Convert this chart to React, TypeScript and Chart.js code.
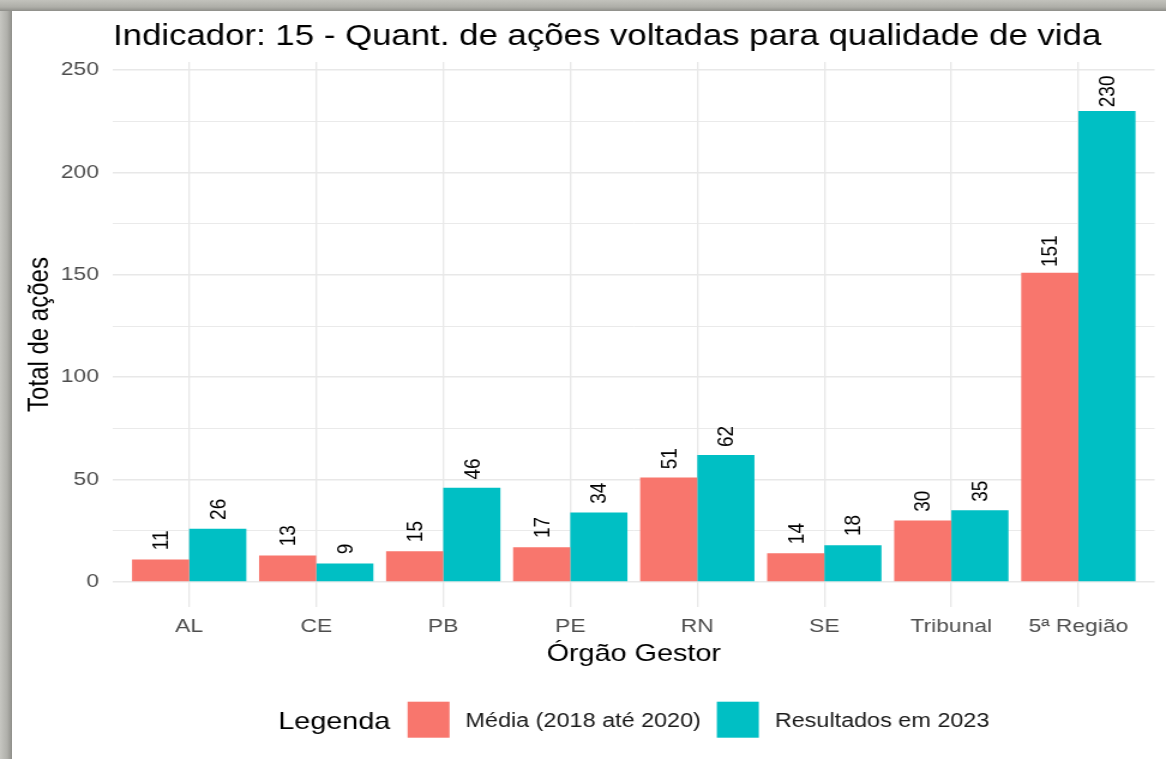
import React, { useEffect, useRef } from "react";
import { Chart, registerables } from "chart.js";

Chart.register(...registerables);

// ---- data ----
const categories = ["AL", "CE", "PB", "PE", "RN", "SE", "Tribunal", "5ª Região"];
const mediaValues = [11, 13, 15, 17, 51, 14, 30, 151];
const resultados2023 = [26, 9, 46, 34, 62, 18, 35, 230];
const seriesLabels = ["Média (2018 até 2020)", "Resultados em 2023"];
const seriesColors = ["#F8766D", "#00BFC4"];
const yTickValues = [0, 25, 50, 75, 100, 125, 150, 175, 200, 225, 250];
const titleText = "Indicador: 15 - Quant. de ações voltadas para qualidade de vida";
const yTitle = "Total de ações";
const xTitle = "Órgão Gestor";
const legendTitle = "Legenda";

// ---- layout (internal canvas units; canvas is stretched 1.2x horizontally like the reference) ----
const CW = 962;
const CH = 748;
const FONT = '"Liberation Sans", Arial, Helvetica, sans-serif';
const PANEL_LEFT = 84.2;
const PANEL_RIGHT = 952.5;
const PANEL_TOP = 51;
const PANEL_BOTTOM = 596;

const decorPlugin = {
  id: "decor",
  afterDatasetsDraw(chart: any) {
    const ctx = chart.ctx as CanvasRenderingContext2D;
    // value labels
    ctx.save();
    ctx.fillStyle = "#000000";
    ctx.font = `19px ${FONT}`;
    chart.data.datasets.forEach((ds: any, di: number) => {
      const meta = chart.getDatasetMeta(di);
      meta.data.forEach((el: any, i: number) => {
        const v = ds.data[i].y;
        const gap = 9.5 - 0.025 * v;
        ctx.save();
        ctx.translate(el.x, el.y - gap);
        ctx.rotate(-Math.PI / 2);
        ctx.textAlign = "left";
        ctx.textBaseline = "middle";
        ctx.fillText(String(v), 0, 1);
        ctx.restore();
      });
    });
    ctx.restore();
  },
  afterDraw(chart: any) {
    const ctx = chart.ctx as CanvasRenderingContext2D;
    const area = chart.chartArea;
    const cx = (area.left + area.right) / 2;
    const cy = (area.top + area.bottom) / 2;
    ctx.save();
    // title
    ctx.fillStyle = "#000000";
    ctx.font = `29px ${FONT}`;
    ctx.textAlign = "left";
    ctx.textBaseline = "alphabetic";
    ctx.fillText(titleText, area.left, 34);
    // x title
    ctx.font = `24px ${FONT}`;
    ctx.textAlign = "center";
    ctx.fillText(xTitle, cx, 650);
    // y title
    ctx.save();
    ctx.translate(30, cy);
    ctx.rotate(-Math.PI / 2);
    ctx.textAlign = "center";
    ctx.textBaseline = "alphabetic";
    ctx.fillText(yTitle, 0, 0);
    ctx.restore();
    // legend
    const keyW = 35;
    const keyH = 36;
    const gTitleKey = 14.4;
    const gKeyLabel = 13.3;
    const gLabelKey = 13.3;
    ctx.font = `24px ${FONT}`;
    const wTitle = ctx.measureText(legendTitle).width;
    ctx.font = `19.5px ${FONT}`;
    const wLabels = seriesLabels.map((l) => ctx.measureText(l).width);
    let total = wTitle + gTitleKey;
    wLabels.forEach((w, i) => {
      total += keyW + gKeyLabel + w + (i < wLabels.length - 1 ? gLabelKey : 0);
    });
    let x = cx - total / 2;
    const legCy = 708.7;
    ctx.textAlign = "left";
    ctx.fillStyle = "#000000";
    ctx.font = `24px ${FONT}`;
    ctx.fillText(legendTitle, x, 718.3);
    x += wTitle + gTitleKey;
    seriesLabels.forEach((l, i) => {
      ctx.fillStyle = seriesColors[i];
      ctx.fillRect(x, legCy - keyH / 2, keyW, keyH);
      x += keyW + gKeyLabel;
      ctx.fillStyle = "#1A1A1A";
      ctx.font = `19.5px ${FONT}`;
      ctx.fillText(l, x, 715.7);
      x += wLabels[i] + gLabelKey;
    });
    ctx.restore();
  },
};

export default function App() {
  const canvasRef = useRef<HTMLCanvasElement | null>(null);

  useEffect(() => {
    document.body.style.margin = "0";
    const canvas = canvasRef.current;
    if (!canvas) return;
    const chart = new Chart(canvas, {
      type: "bar",
      data: {
        datasets: [mediaValues, resultados2023].map((vals, di) => ({
          label: seriesLabels[di],
          data: vals.map((v, i) => ({ x: i + 1, y: v })),
          backgroundColor: seriesColors[di],
          borderWidth: 0,
          categoryPercentage: 0.9,
          barPercentage: 1,
        })),
      },
      options: {
        animation: false,
        responsive: false,
        devicePixelRatio: 1,
        layout: {
          padding: { top: PANEL_TOP, right: CW - PANEL_RIGHT, bottom: 0, left: 0 },
        },
        plugins: {
          legend: { display: false },
          title: { display: false },
          tooltip: { enabled: false },
        },
        scales: {
          x: {
            type: "linear",
            min: 0.4,
            max: 8.6,
            offset: false,
            border: { display: false },
            grid: { color: "#E8E8E8", lineWidth: 1.35, drawTicks: false, offset: false },
            ticks: {
              autoSkip: false,
              maxRotation: 0,
              minRotation: 0,
              padding: 8,
              color: "#4D4D4D",
              font: { size: 19, family: FONT },
              callback: (value: any) => categories[Math.round(Number(value)) - 1] ?? "",
            },
            afterBuildTicks: (scale: any) => {
              scale.ticks = categories.map((_, i) => ({ value: i + 1 }));
            },
            afterFit: (scale: any) => {
              scale.height = CH - PANEL_BOTTOM;
            },
          } as any,
          y: {
            min: -12.2,
            max: 253.9,
            border: { display: false },
            grid: {
              color: "#E8E8E8",
              lineWidth: (c: any) => (c.tick && c.tick.value % 50 === 0 ? 1.5 : 0.9),
              drawTicks: false,
            },
            ticks: {
              padding: 11.7,
              color: "#4D4D4D",
              font: { size: 19, family: FONT },
              callback: (value: any) => (Number(value) % 50 === 0 ? String(value) : ""),
            },
            afterBuildTicks: (scale: any) => {
              scale.ticks = yTickValues.map((v) => ({ value: v }));
            },
            afterFit: (scale: any) => {
              scale.width = PANEL_LEFT;
            },
          } as any,
        },
      },
      plugins: [decorPlugin],
    });
    return () => chart.destroy();
  }, []);

  return (
    <div
      style={{
        position: "absolute",
        left: 0,
        top: 0,
        width: 1166,
        height: 759,
        overflow: "hidden",
        background: "linear-gradient(to right, #c6c6c1 0px, #b0b0ab 7px, #8f8f8a 12px)",
      }}
    >
      <div
        style={{
          position: "absolute",
          left: 0,
          top: 0,
          width: 1166,
          height: 11,
          background: "linear-gradient(to bottom, #c2c2bc 0px, #aeaea8 7px, #8e8e89 11px)",
        }}
      />
      <canvas
        ref={canvasRef}
        width={CW}
        height={CH}
        style={{ position: "absolute", left: 12, top: 11, width: "1154px", height: "748px", background: "#ffffff" }}
      />
    </div>
  );
}
